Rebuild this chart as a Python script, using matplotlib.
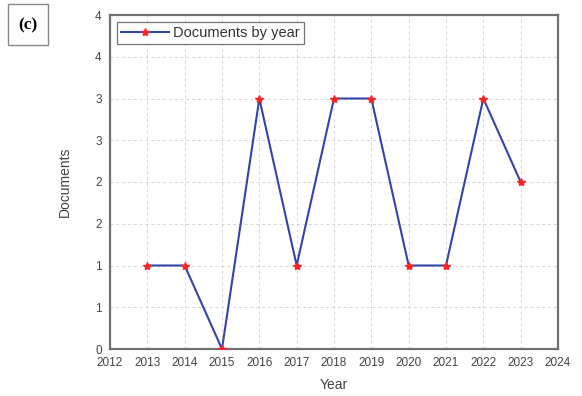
import matplotlib
matplotlib.use("Agg")
import matplotlib.pyplot as plt
from matplotlib.patches import Rectangle

years = [2013, 2014, 2015, 2016, 2017, 2018, 2019, 2020, 2021, 2022, 2023]
documents = [1, 1, 0, 3, 1, 3, 3, 1, 1, 3, 2]

x_ticks = list(range(2012, 2025))
y_ticks = [0, 0.5, 1, 1.5, 2, 2.5, 3, 3.5, 4]
y_tick_labels = ["0", "1", "1", "2", "2", "3", "3", "4", "4"]

plt.rcParams["font.family"] = ["Liberation Sans", "DejaVu Sans"]
text_color = "#444444"

W, H = 582, 396
fig = plt.figure(figsize=(W / 100, H / 100), dpi=100)
ax = fig.add_axes([110 / W, 1 - 349 / H, 448 / W, 334 / H])

ax.plot(years, documents, color="#3344aa", lw=1.5, marker="*", ms=6,
        mfc="#ff2222", mec="#ff2222", label="Documents by year", zorder=3)

ax.set_xlim(2012, 2024)
ax.set_ylim(0, 4)
ax.set_xticks(x_ticks)
ax.set_yticks(y_ticks)
ax.set_yticklabels(y_tick_labels)
ax.tick_params(length=0, labelsize=8.5, labelcolor=text_color, pad=6)
ax.grid(True, ls=(0, (3, 3)), color="#d4d4d4", lw=0.7)
for s in ax.spines.values():
    s.set_color("#707070")
    s.set_linewidth(1.6)

ax.set_xlabel("Year", fontsize=10, color=text_color, labelpad=6)
ax.set_ylabel("Documents", fontsize=10, color=text_color, labelpad=17)

leg = ax.legend(loc="upper left", fontsize=10.5, frameon=True, fancybox=False,
                borderpad=0.25, handlelength=3.3, handletextpad=0.3,
                bbox_to_anchor=(0.0, 1.0), borderaxespad=0.5)
leg.get_frame().set_edgecolor("#555555")
leg.get_frame().set_linewidth(0.9)
for t in leg.get_texts():
    t.set_color("#333333")

# panel tag in a square box
fig.patches.append(Rectangle((8 / W, 1 - 45 / H), 40 / W, 41 / H,
                             transform=fig.transFigure, fc="white",
                             ec="#888888", lw=1))
fig.text(28 / W, 1 - 25 / H, "(c)", family=["Liberation Serif", "DejaVu Serif"],
         fontweight="bold", fontsize=12.5, ha="center", va="center")

fig.savefig("out.png", dpi=100)
